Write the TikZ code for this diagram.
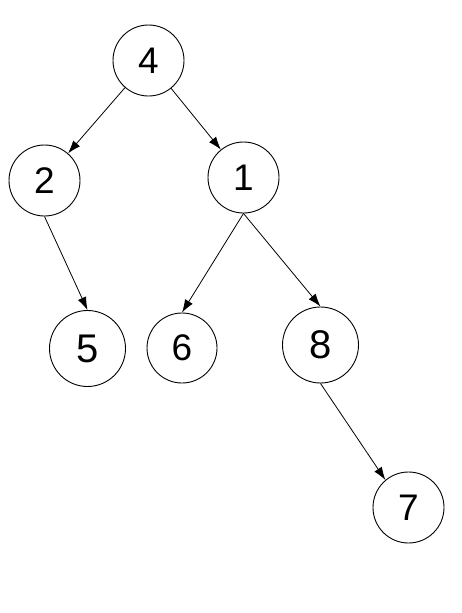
\documentclass[tikz,border=0pt]{standalone}
\usepackage{fontspec}
\setmainfont{Liberation Sans}
\usetikzlibrary{arrows.meta}
\begin{document}
\begin{tikzpicture}[x=1pt,y=-1pt,>={Latex[length=13pt,width=9pt]},
  vertex/.style={draw,circle,line width=0.9pt,minimum size=71pt,inner sep=0pt,
    font=\fontsize{37}{42}\selectfont},
  bigvertex/.style={vertex,minimum size=76pt,font=\fontsize{40}{46}\selectfont},
  link/.style={->,line width=0.8pt}]

\useasboundingbox (0,0) rectangle (462,613);

% Nodes
\node[vertex] (n4) at (148.5,60.5) {4};
\node[vertex] (n2) at (44.5,180.5) {2};
\node[vertex] (n1) at (243.5,177.5) {1};
\node[bigvertex] (n5) at (87.5,348.5) {5};
\node[vertex,minimum size=70pt] (n6) at (182,348) {6};
\node[bigvertex] (n8) at (320.5,345) {8};
\node[vertex] (n7) at (408.5,507.5) {7};

% Edges
\draw[link] (n4) -- (n2);
\draw[link] (n4) -- (n1);
\draw[link] (n2.south) -- (n5.north);
\draw[link] (n1.south) -- (n6.north);
\draw[link] (n1.south) -- (n8.north);
\draw[link] (n8.south) -- (n7.130);

\end{tikzpicture}
\end{document}
